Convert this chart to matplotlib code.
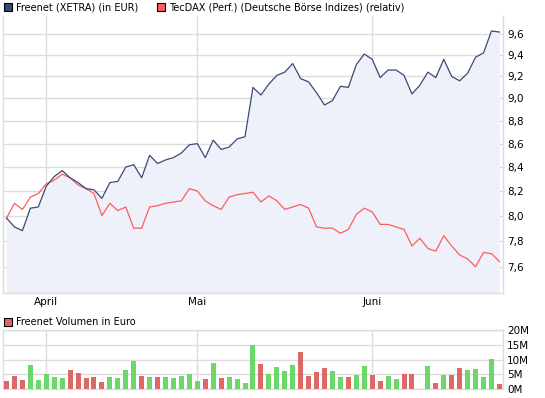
import numpy as np
import matplotlib
matplotlib.use("Agg")
import matplotlib.pyplot as plt
from matplotlib.patches import Rectangle
from matplotlib.ticker import FixedLocator, NullLocator

# ---- data (trading days, late March to late June) ----
freenet = [7.98, 7.91, 7.88, 8.06, 8.07, 8.24, 8.32, 8.37, 8.31, 8.27,
           8.22, 8.21, 8.14, 8.27, 8.28, 8.40, 8.42, 8.31, 8.50, 8.43,
           8.46, 8.48, 8.52, 8.59, 8.60, 8.48, 8.63, 8.55, 8.57, 8.64,
           8.66, 9.10, 9.03, 9.13, 9.21, 9.24, 9.32, 9.18, 9.15, 9.05,
           8.94, 8.98, 9.11, 9.10, 9.31, 9.41, 9.36, 9.19, 9.26, 9.26,
           9.21, 9.04, 9.12, 9.24, 9.19, 9.36, 9.20, 9.16, 9.23, 9.38,
           9.42, 9.63, 9.62]
tecdax = [7.98, 8.10, 8.05, 8.15, 8.18, 8.26, 8.29, 8.34, 8.31, 8.25,
          8.22, 8.18, 8.00, 8.10, 8.04, 8.07, 7.90, 7.90, 8.07, 8.08,
          8.10, 8.11, 8.12, 8.22, 8.20, 8.12, 8.08, 8.05, 8.15, 8.17,
          8.18, 8.19, 8.11, 8.16, 8.12, 8.05, 8.07, 8.09, 8.06, 7.91,
          7.90, 7.90, 7.86, 7.89, 8.01, 8.06, 8.03, 7.93, 7.93, 7.91,
          7.89, 7.76, 7.82, 7.74, 7.72, 7.84, 7.76, 7.69, 7.66, 7.60,
          7.71, 7.70, 7.64]
volume = [2.8, 4.4, 3.1, 8.1, 3.1, 5.1, 4.1, 3.8, 6.4, 5.4,
          3.8, 4.1, 2.4, 4.1, 3.8, 6.4, 9.4, 4.4, 4.1, 4.1,
          4.1, 3.8, 4.4, 5.1, 2.8, 3.4, 8.8, 3.8, 4.1, 3.4,
          2.1, 15.1, 8.4, 5.1, 7.4, 6.1, 8.1, 12.6, 4.4, 5.8,
          7.1, 6.1, 4.1, 4.1, 4.8, 7.8, 4.8, 2.8, 4.4, 3.4,
          5.1, 5.1, 0.0, 7.8, 2.1, 4.8, 4.8, 7.1, 6.4, 6.8,
          4.1, 10.1, 1.8]
# 1 = up day (green), 0 = down day (red)
vol_up = [0, 0, 0, 1, 1, 1, 1, 1, 0, 0,
          0, 0, 0, 1, 1, 1, 1, 0, 1, 0,
          1, 1, 1, 1, 1, 0, 1, 0, 1, 1,
          1, 1, 0, 1, 1, 1, 1, 0, 0, 0,
          0, 1, 1, 0, 1, 1, 0, 0, 1, 1,
          0, 0, 0, 1, 0, 1, 0, 0, 1, 1,
          1, 1, 0]
month_pos = [5, 24, 46]
month_labels = ["April", "Mai", "Juni"]
price_ticks = [7.6, 7.8, 8.0, 8.2, 8.4, 8.6, 8.8, 9.0, 9.2, 9.4, 9.6]
vol_ticks = [0, 5, 10, 15, 20]

NAVY = "#3b4a74"
FILL = "#eef1f9"
RED_LINE = "#ff5c5c"
GREEN = "#6cd86c"
RED_BAR = "#dc6868"
GRID = "#dcdcdc"
FS = 7.5

W, H = 545, 398
fig = plt.figure(figsize=(W / 100, H / 100), dpi=100)
fig.patch.set_facecolor("white")


def box(x0, y0, x1, y1):
    return [x0 / W, 1 - y1 / H, (x1 - x0) / W, (y1 - y0) / H]


x = np.arange(len(freenet))

# ---- main price panel ----
ax = fig.add_axes(box(2.7, 16, 503, 293))
ax.set_yscale("log")
ymin, ymax = 7.402, 9.776
ax.fill_between(x, freenet, ymin, color=FILL, lw=0, zorder=1)
ax.plot(x, tecdax, color=RED_LINE, lw=0.9, zorder=3)
ax.plot(x, freenet, color=NAVY, lw=0.9, zorder=4)
ax.set_ylim(ymin, ymax)
ax.set_xlim(-0.48, 62.45)
ax.yaxis.set_major_locator(FixedLocator(price_ticks))
ax.yaxis.set_minor_locator(NullLocator())
ax.set_yticklabels([f"{v:.1f}".replace(".", ",") for v in price_ticks])
ax.yaxis.tick_right()
ax.set_xticks(month_pos)
ax.set_xticklabels(month_labels)
ax.tick_params(axis="both", length=0, labelsize=FS, pad=3)
ax.grid(True, color=GRID, lw=1.0, zorder=0)
ax.set_axisbelow(True)
for side in ["left", "right", "bottom"]:
    ax.spines[side].set_color(GRID)
    ax.spines[side].set_linewidth(1.0)
ax.spines["top"].set_visible(False)

# ---- volume panel ----
axv = fig.add_axes(box(2.7, 330, 503, 389.3))
colors = [GREEN if u else RED_BAR for u in vol_up]
axv.bar(x, volume, width=0.63, color=colors, zorder=3)
axv.set_xlim(-0.48, 62.45)
axv.set_ylim(0, 20)
axv.set_yticks(vol_ticks)
axv.set_yticklabels([f"{v}M" for v in vol_ticks])
axv.yaxis.tick_right()
axv.set_xticks(month_pos)
axv.set_xticklabels([])
axv.tick_params(axis="both", length=0, labelsize=FS, pad=3)
axv.grid(True, color=GRID, lw=1.0, zorder=0)
axv.set_axisbelow(True)
for side in ["left", "right", "bottom", "top"]:
    axv.spines[side].set_color(GRID)
    axv.spines[side].set_linewidth(1.0)

# ---- legends ----
def legend_item(px, py, color, label):
    fig.add_artist(Rectangle((px / W, 1 - (py + 8) / H), 8 / W, 8 / H,
                             facecolor=color, edgecolor="black", lw=0.8,
                             transform=fig.transFigure))
    fig.text((px + 12) / W, 1 - (py + 4) / H, label, fontsize=7,
             va="center", ha="left")

legend_item(4, 3, NAVY, "Freenet (XETRA) (in EUR)")
legend_item(157, 3, RED_LINE, "TecDAX (Perf.) (Deutsche Börse Indizes) (relativ)")
legend_item(4, 318, RED_BAR, "Freenet Volumen in Euro")

fig.savefig("out.png", dpi=100)
